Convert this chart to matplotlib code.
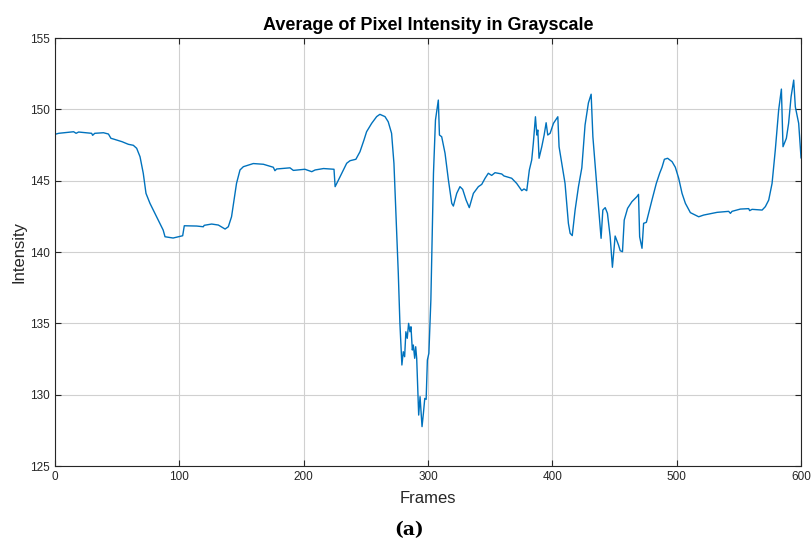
import matplotlib
matplotlib.use("Agg")
import matplotlib.pyplot as plt

# frame numbers and mean grayscale intensity
frames = [0, 3, 15, 17, 19, 29.5, 30.3, 32, 39, 43, 45, 47, 54, 59, 63, 65.7, 68.4, 71,
          73.2, 76.4, 87, 88.5, 95, 102.7, 104, 114, 119.3, 120, 126, 131.4, 136.8, 139.4,
          142, 146, 148.8, 151.5, 159.5, 167.6, 175.6, 176.9, 178.3, 189, 191.7, 201, 206.5,
          209.2, 216, 224.4, 225.3, 228, 234.6, 237.3, 242, 245.3, 248.5, 250.6, 254.7,
          258.7, 261.3, 265.4, 268, 270.7, 272.6, 274.7, 276.1, 277.4, 279, 280.1, 281.2,
          282.2, 283.3, 284.4, 285.5, 286.3, 287.4, 288.2, 289.3, 290.1, 290.9, 292.5,
          293.6, 295.2, 296.3, 297.4, 298.5, 299.5, 300.7, 302.3, 303.3, 304.4, 306, 307.5,
          308.3, 309.2, 311, 313.7, 316.4, 319.1, 320.4, 323.1, 325.7, 327.9, 330.6, 333.2,
          336.5, 340.5, 343.2, 345.9, 348.5, 351.2, 353.9, 359.3, 361.1, 367.3, 371.3,
          375.4, 377.2, 379.4, 381.5, 383.4, 384.7, 386.4, 387.5, 388.3, 389.3, 391.5,
          393.4, 395, 396.3, 398.2, 400.9, 404.4, 405.4, 408.4, 410.2, 412.9, 414.3, 416,
          418.3, 421, 423.7, 426.3, 429, 431.2, 432.6, 435.8, 439.2, 440.6, 442.5, 444.3,
          446.5, 448.3, 450.5, 453.2, 454.6, 456.4, 457.8, 460.5, 464, 468, 469.3, 470.2,
          472.1, 473.4, 475.6, 480.1, 483.6, 486.3, 488.2, 490.1, 492.7, 496.3, 498.9,
          501.6, 504.3, 507, 511, 517.7, 521.7, 532.5, 541.8, 543.2, 544.5, 551.2, 557.9,
          558.7, 560.6, 568.7, 571.3, 574, 576.7, 579.3, 582, 584.2, 585.5, 588.2, 590,
          592, 594.1, 595.4, 598.1, 600]
intensity = [148.25, 148.32, 148.43, 148.32, 148.41, 148.32, 148.18, 148.32, 148.36, 148.27,
             147.97, 147.92, 147.73, 147.55, 147.48, 147.27, 146.68, 145.52, 144.11, 143.41,
             141.54, 141.07, 140.98, 141.14, 141.84, 141.82, 141.77, 141.87, 141.96, 141.89,
             141.61, 141.77, 142.47, 144.81, 145.75, 145.98, 146.2, 146.15, 145.94, 145.7,
             145.82, 145.9, 145.72, 145.8, 145.63, 145.75, 145.85, 145.8, 144.58, 145.05,
             146.22, 146.4, 146.5, 147.03, 147.85, 148.43, 149.02, 149.49, 149.65, 149.49,
             149.13, 148.32, 146.22, 141.54, 138.51, 135.0, 132.08, 133.01, 132.66, 134.41,
             133.95, 135.0, 134.41, 134.76, 133.13, 133.48, 132.55, 133.36, 132.55, 128.57,
             129.86, 127.76, 128.69, 129.74, 129.67, 132.43, 132.9, 136.64, 140.84, 145.52,
             149.25, 150.18, 150.65, 148.2, 148.08, 146.92, 145.05, 143.41, 143.22, 144.11,
             144.58, 144.39, 143.65, 143.11, 144.11, 144.58, 144.74, 145.17, 145.52, 145.37,
             145.56, 145.47, 145.33, 145.17, 144.81, 144.3, 144.42, 144.3, 145.75, 146.45,
             147.62, 149.48, 148.2, 148.55, 146.57, 147.38, 148.2, 149.06, 148.2, 148.32,
             149.02, 149.48, 147.38, 145.75, 144.81, 142.01, 141.31, 141.15, 142.94, 144.58,
             145.9, 148.9, 150.45, 151.06, 148.08, 144.58, 140.96, 142.94, 143.11, 142.71,
             141.07, 138.93, 141.12, 140.49, 140.09, 140.02, 142.24, 143.06, 143.53, 143.88,
             144.04, 141.07, 140.26, 142.01, 142.08, 143.64, 144.81, 145.52, 145.94, 146.5,
             146.57, 146.33, 145.94, 145.17, 144.11, 143.41, 142.76, 142.47, 142.59, 142.78,
             142.85, 142.71, 142.85, 143.01, 143.04, 142.9, 142.99, 142.94, 143.18, 143.64,
             144.81, 147.15, 149.95, 151.42, 147.38, 147.97, 149.02, 150.89, 152.05, 150.18,
             149.02, 146.6]

x_ticks = [0, 100, 200, 300, 400, 500, 600]
y_ticks = [125, 130, 135, 140, 145, 150, 155]

plt.rcParams['font.family'] = ['Liberation Sans', 'DejaVu Sans']

fig = plt.figure(figsize=(8.12, 5.43), dpi=100)
ax = fig.add_axes([0.0677, 0.1418, 0.9188, 0.7882])
ax.plot(frames, intensity, color='#0072BD', linewidth=1.0)

ax.set_xlim(0, 600)
ax.set_ylim(125, 155)
ax.set_xticks(x_ticks)
ax.set_yticks(y_ticks)
ax.grid(True, color='#d0d0d0', linewidth=0.8)
ax.set_axisbelow(True)
ax.tick_params(direction='in', top=True, right=True, length=4, width=0.8,
               labelsize=8.5, colors='#262626', pad=3.5)
for s in ax.spines.values():
    s.set_color('#262626')
    s.set_linewidth(0.8)

ax.set_title('Average of Pixel Intensity in Grayscale', fontsize=13, fontweight='bold', pad=6)
ax.set_xlabel('Frames', fontsize=12, color='#262626', labelpad=6)
ax.set_ylabel('Intensity', fontsize=12, color='#262626', labelpad=3)

fig.text(0.504, 0.024, '(a)', ha='center', va='center', fontsize=13.5, fontweight='bold',
         family=['DejaVu Serif'])

fig.savefig('out.png', dpi=100)
